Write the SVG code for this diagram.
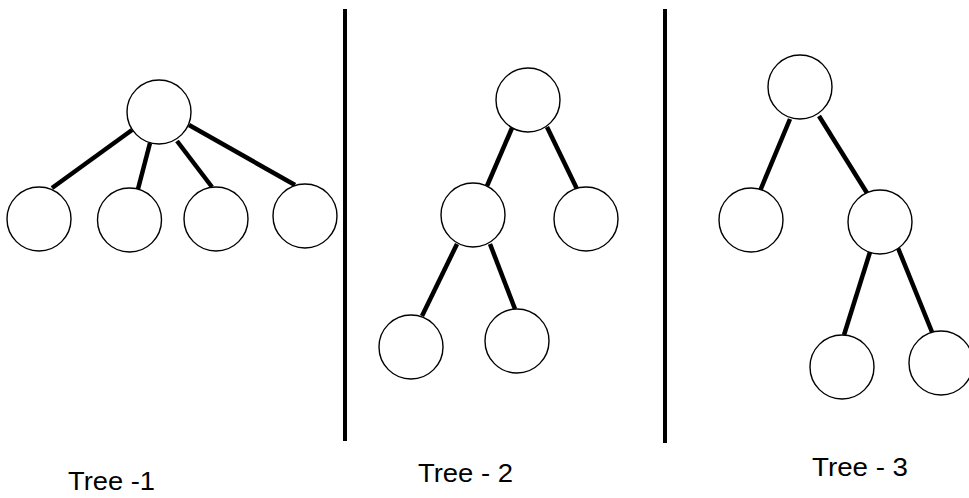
<svg xmlns="http://www.w3.org/2000/svg" width="969" height="498" viewBox="0 0 969 498">
<style>
.n{fill:#fff;stroke:#000;stroke-width:1.4}
.e{stroke:#000;stroke-width:4.5;stroke-linecap:butt}
.d{stroke:#000;stroke-width:4}
.t{font-family:"Liberation Sans",Arial,sans-serif;font-size:26px;fill:#000}
</style>
<rect width="969" height="498" fill="#fff"/>
<g id="dividers">
<line class="d" x1="345" y1="9" x2="345" y2="441"/>
<line class="d" x1="665" y1="9" x2="665" y2="443"/>
</g>
<g id="connectors">
<line class="e" x1="132" y1="130" x2="52" y2="188"/>
<line class="e" x1="150" y1="143" x2="138" y2="189"/>
<line class="e" x1="177" y1="141" x2="212" y2="187"/>
<line class="e" x1="189" y1="125" x2="295" y2="185"/>
<line class="e" x1="512" y1="128" x2="487" y2="186"/>
<line class="e" x1="547" y1="127" x2="577" y2="189"/>
<line class="e" x1="457" y1="244" x2="422" y2="316"/>
<line class="e" x1="490" y1="244" x2="515" y2="309"/>
<line class="e" x1="790" y1="119" x2="760" y2="191"/>
<line class="e" x1="819" y1="116" x2="867" y2="193"/>
<line class="e" x1="870" y1="252" x2="844" y2="335"/>
<line class="e" x1="898" y1="248" x2="932" y2="332"/>
</g>
<g id="t1-root"><circle class="n" cx="159" cy="112" r="32"/></g>
<g id="t1-c1"><circle class="n" cx="39" cy="219" r="32"/></g>
<g id="t1-c2"><circle class="n" cx="129.5" cy="220" r="32"/></g>
<g id="t1-c3"><circle class="n" cx="216" cy="219" r="32"/></g>
<g id="t1-c4"><circle class="n" cx="305" cy="216" r="32"/></g>
<g id="t2-root"><circle class="n" cx="528" cy="100" r="32"/></g>
<g id="t2-l"><circle class="n" cx="473" cy="215" r="32"/></g>
<g id="t2-r"><circle class="n" cx="586" cy="219" r="32"/></g>
<g id="t2-ll"><circle class="n" cx="411" cy="347" r="32"/></g>
<g id="t2-lr"><circle class="n" cx="517" cy="341" r="32"/></g>
<g id="t3-root"><circle class="n" cx="800" cy="87" r="32"/></g>
<g id="t3-l"><circle class="n" cx="751" cy="220" r="32"/></g>
<g id="t3-r"><circle class="n" cx="880" cy="222" r="32"/></g>
<g id="t3-rl"><circle class="n" cx="842" cy="367" r="32"/></g>
<g id="t3-rr"><circle class="n" cx="941" cy="363" r="32"/></g>
<g id="labels">
<text class="t" x="68" y="490" textLength="87" lengthAdjust="spacingAndGlyphs">Tree -1</text>
<text class="t" x="418" y="482" textLength="95" lengthAdjust="spacingAndGlyphs">Tree - 2</text>
<text class="t" x="812" y="476" textLength="96" lengthAdjust="spacingAndGlyphs">Tree - 3</text>
</g>
</svg>
